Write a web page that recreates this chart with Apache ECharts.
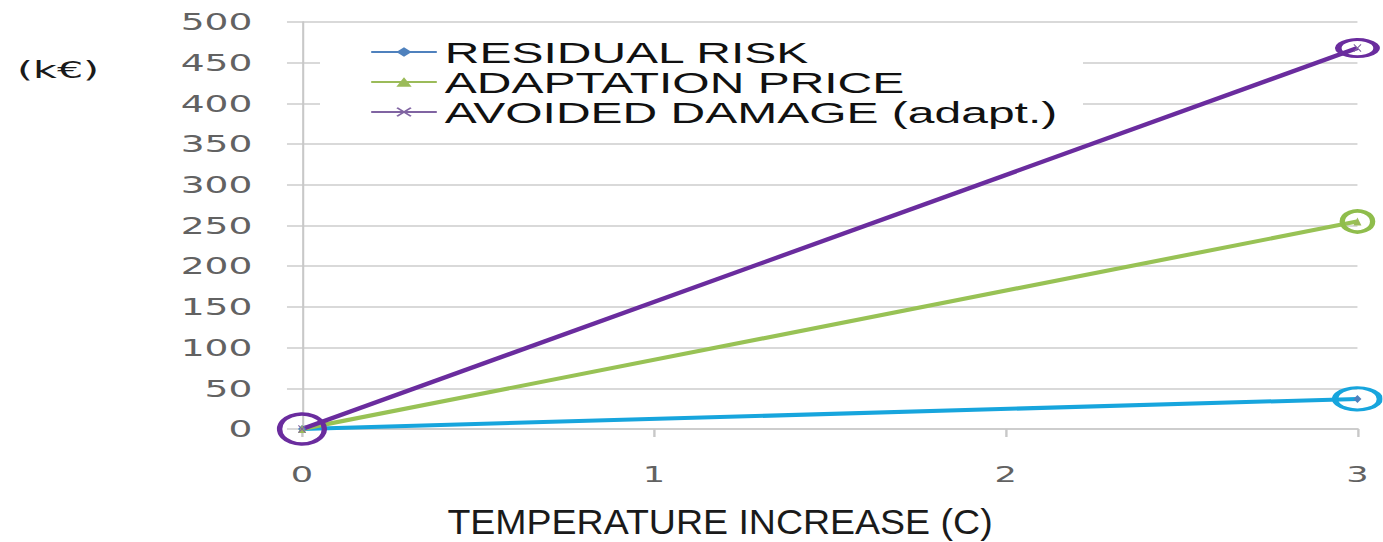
<!DOCTYPE html>
<html>
<head>
<meta charset="utf-8">
<title>Adaptation cost vs temperature increase</title>
<script src="https://cdn.jsdelivr.net/npm/echarts/dist/echarts.min.js"></script>
<style>
  html, body { margin: 0; padding: 0; background: #fff; overflow: hidden; }
  #chart { height: 542px; transform-origin: 0 0; }
</style>
</head>
<body>
<div id="chart"></div>
<script>
// ---- data ----
const temperature = [0, 3];
const residualRisk = [0, 37];
const adaptationPrice = [0, 255];
const avoidedDamage = [0, 468];
const seriesNames = ['RESIDUAL RISK', 'ADAPTATION PRICE', 'AVOIDED DAMAGE (adapt.)'];
const yMin = 0, yMax = 500, yStep = 50;
const xMin = 0, xMax = 3, xStep = 1;
const unitLabel = '(k€)';
const xTitle = 'TEMPERATURE INCREASE (C)';

// the whole drawing is widened horizontally
const STRETCH = 1.6;
const el = document.getElementById('chart');
el.style.width = (1383 / STRETCH) + 'px';
el.style.transform = 'scaleX(' + STRETCH + ')';

const pts = (ys) => temperature.map((t, i) => [t, ys[i]]);
const last = temperature.length - 1;

const ring = (x, y, color, size) => ({
  coord: [x, y],
  symbol: 'circle',
  symbolSize: size,
  itemStyle: { color: 'rgba(0,0,0,0)', borderColor: color, borderWidth: 3.5 }
});

const crossPath = 'path://M0,1L1,0L5,4L9,0L10,1L6,5L10,9L9,10L5,6L1,10L0,9L4,5Z';

const chart = echarts.init(el, null, { renderer: 'svg' });
chart.setOption({
  animation: false,
  backgroundColor: '#ffffff',
  grid: { left: 188.75, right: 15.6, top: 22, bottom: 113, containLabel: false },
  xAxis: {
    type: 'value', min: xMin, max: xMax, interval: xStep,
    axisLine: { show: true, lineStyle: { color: '#cdcdcd', width: 2 } },
    axisTick: { show: true, length: 8, lineStyle: { color: '#c8c8c8', width: 1.5 } },
    splitLine: { show: false },
    axisLabel: { margin: 34, color: '#626262', fontFamily: 'DejaVu Sans', fontSize: 22 }
  },
  yAxis: {
    type: 'value', min: yMin, max: yMax, interval: yStep,
    axisLine: { show: true, lineStyle: { color: '#c8c8c8', width: 1.3 } },
    axisTick: { show: true, length: 9.4, lineStyle: { color: '#d9d9d9', width: 2 } },
    splitLine: { show: true, lineStyle: { color: '#d9d9d9', width: 2 } },
    axisLabel: { margin: 31, color: '#626262', fontFamily: 'DejaVu Sans', fontSize: 23.5 }
  },
  legend: {
    orient: 'vertical',
    left: 200, top: 28,
    padding: [9, 16, 9, 31],
    backgroundColor: '#ffffff',
    itemGap: 0,
    itemWidth: 41,
    itemHeight: 12,
    textStyle: { fontFamily: 'Liberation Sans', fontSize: 30, lineHeight: 30, color: '#111111' },
    data: [
      { name: seriesNames[0], itemStyle: { color: '#4f81bd' }, lineStyle: { color: '#4f81bd', width: 2 } },
      { name: seriesNames[1], itemStyle: { color: '#9bbb59' }, lineStyle: { color: '#9bbb59', width: 2 } },
      { name: seriesNames[2], itemStyle: { color: '#8064a2' }, lineStyle: { color: '#8064a2', width: 2 } }
    ]
  },
  graphic: [
    {
      type: 'text', x: 10.6, y: 70, scaleX: 1.12,
      style: { text: unitLabel, font: '23px "DejaVu Sans"', fill: '#1a1a1a', verticalAlign: 'middle' }
    },
    {
      type: 'text', x: 450, y: 522, scaleX: 0.67,
      style: { text: xTitle, font: '35px "Liberation Sans"', fill: '#1a1a1a', align: 'center', verticalAlign: 'middle' }
    }
  ],
  series: [
    {
      name: seriesNames[0], type: 'line', data: pts(residualRisk),
      symbol: 'diamond', symbolSize: [5, 8],
      itemStyle: { color: '#4f81bd' },
      lineStyle: { color: '#17a5dd', width: 4 },
      markPoint: { label: { show: false }, data: [ring(temperature[last], residualRisk[last], '#17a5dd', [28, 22])] }
    },
    {
      name: seriesNames[1], type: 'line', data: pts(adaptationPrice),
      symbol: 'triangle', symbolSize: [5, 8],
      itemStyle: { color: '#9bbb59' },
      lineStyle: { color: '#98c255', width: 4 },
      markPoint: { label: { show: false }, data: [ring(temperature[last], adaptationPrice[last], '#8fbd4c', [19, 21])] }
    },
    {
      name: seriesNames[2], type: 'line', data: pts(avoidedDamage),
      symbol: crossPath, symbolSize: [5, 8],
      itemStyle: { color: '#8064a2' },
      lineStyle: { color: '#6a2c9e', width: 4 },
      markPoint: { label: { show: false }, data: [
        ring(temperature[0], avoidedDamage[0], '#6a2c9e', [28, 30]),
        ring(temperature[last], avoidedDamage[last], '#6a2c9e', [24, 17])
      ] }
    }
  ]
});
</script>
</body>
</html>
